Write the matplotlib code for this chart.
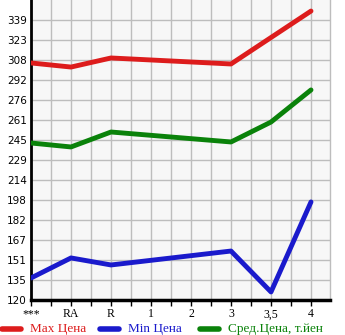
import numpy as np
import matplotlib
matplotlib.use("Agg")
import matplotlib.pyplot as plt
from matplotlib.lines import Line2D

categories = ["***", "RA", "R", "1", "2", "3", "3,5", "4"]
max_price = [305.4, 302.2, 309.3, np.nan, np.nan, 304.6, np.nan, 346.0]
min_price = [137.2, 152.9, 147.4, np.nan, np.nan, 158.3, 126.3, 196.7]
avg_price = [242.8, 239.7, 251.4, np.nan, np.nan, 243.6, 259.2, 284.3]
y_labels = ["120", "135", "151", "167", "182", "198", "214", "229",
            "245", "261", "276", "292", "308", "323", "339"]

series = [
    ("Max Цена", max_price, "#dd1c1c"),
    ("Min Цена", min_price, "#1a1acc"),
    ("Сред.Цена, т.йен", avg_price, "#0a820a"),
]

fig = plt.figure(figsize=(3.45, 3.35), dpi=100)
ax = fig.add_axes([31 / 345, 35 / 335, 299 / 345, 300 / 335])
ax.set_facecolor("#f7f7f7")

x = np.arange(len(categories))
for name, vals, col in series:
    v = np.array(vals, dtype=float)
    ok = ~np.isnan(v)
    ax.plot(x[ok], v[ok], color=col, lw=3.5, solid_capstyle="round",
            solid_joinstyle="round", zorder=3)

step = (339 - 120) / 14
yticks = 120 + step * np.arange(len(y_labels))
ax.set_ylim(120, 120 + step * 15)
ax.set_xlim(0, 7.475)
ax.set_yticks(yticks)
ax.set_yticklabels(y_labels, fontsize=7.5, family="DejaVu Sans")
ax.set_xticks(x)
ax.set_xticklabels(categories, fontsize=8.5, family="Liberation Serif")
ax.set_xticks(np.arange(0.5, 7.5, 1), minor=True)

ax.grid(True, which="both", color="#bdbdbd", lw=1, zorder=1)
ax.tick_params(axis="y", length=0, pad=3)
ax.tick_params(axis="x", which="both", length=4, width=1, direction="out", pad=2)

ax.spines["top"].set_visible(False)
ax.spines["right"].set_color("#bdbdbd")
ax.spines["right"].set_linewidth(1)
ax.spines["left"].set_linewidth(2)
ax.spines["bottom"].set_linewidth(2.5)

# legend drawn by hand along the bottom
leg_x = [0, 98, 198]
ly = 6 / 335
for (name, vals, col), lx in zip(series, leg_x):
    fig.add_artist(Line2D([(lx + 2) / 345, (lx + 21) / 345], [ly, ly], color=col,
                          lw=4, solid_capstyle="round", transform=fig.transFigure))
    fig.text((lx + 30) / 345, ly, name, color=col, fontsize=9.5,
             family="Liberation Serif", va="center", ha="left")

fig.savefig("out.png", dpi=100)
